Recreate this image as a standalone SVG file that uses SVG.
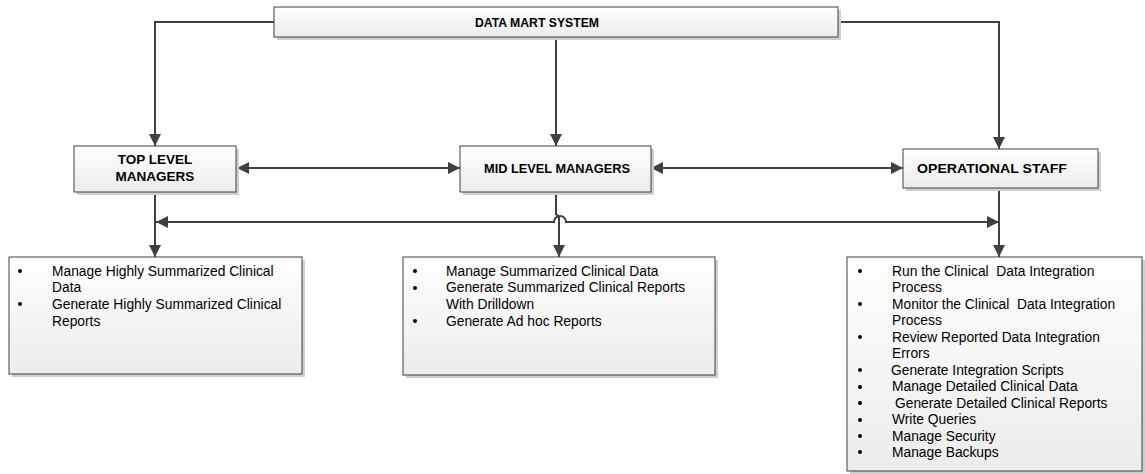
<svg xmlns="http://www.w3.org/2000/svg" width="1145" height="474" viewBox="0 0 1145 474">
  <style>
    .box { fill: url(#boxFill); stroke: #404040; stroke-width: 1; }
    .shadow { fill: #cfcfcf; }
    .title { font-family: "Liberation Sans", Arial, sans-serif; font-size: 13.5px; font-weight: bold; fill: #000; text-anchor: middle; }
    .item { font-family: "Liberation Sans", Arial, sans-serif; font-size: 13.8px; fill: #000; }
    .wire { fill: none; stroke: #404040; stroke-width: 2; }
    .dot { fill: #000; }
  </style>
  <defs>
    <linearGradient id="boxFill" x1="0" y1="0" x2="0" y2="1">
      <stop offset="0" stop-color="#ffffff"/>
      <stop offset="1" stop-color="#ececec"/>
    </linearGradient>
    <marker id="arrow" viewBox="0 0 10 10" refX="10" refY="5" markerWidth="6" markerHeight="6" orient="auto-start-reverse" markerUnits="strokeWidth">
      <path d="M0,0 L10,5 L0,10 Z" fill="#404040"/>
    </marker>
  </defs>

  <!-- connectors -->
  <g id="connectors">
    <path class="wire" d="M274,22 H155 V146" marker-end="url(#arrow)"/>
    <path class="wire" d="M556,37 V146" marker-end="url(#arrow)"/>
    <path class="wire" d="M838,22 H999 V149" marker-end="url(#arrow)"/>
    <path class="wire" d="M237,168 H460" marker-start="url(#arrow)" marker-end="url(#arrow)"/>
    <path class="wire" d="M651,168 H903" marker-start="url(#arrow)" marker-end="url(#arrow)"/>
    <path class="wire" d="M155,192 V257" marker-end="url(#arrow)"/>
    <path class="wire" d="M999,188 V257" marker-end="url(#arrow)"/>
    <path class="wire" d="M556,192 V214 L559,217 V257" marker-end="url(#arrow)"/>
    <path class="wire" d="M999,222 H566 A6,6 0 0 0 554,222 H156" marker-end="url(#arrow)"/>
    <path class="wire" d="M980,222 H999" marker-end="url(#arrow)"/>
  </g>

  <!-- top node -->
  <g id="data-mart-system">
    <rect class="shadow" x="277" y="10" width="564" height="30"/>
    <rect class="box" x="274" y="7" width="564" height="30"/>
    <text class="title" x="475" y="27" textLength="124" lengthAdjust="spacingAndGlyphs" style="text-anchor:start">DATA MART SYSTEM</text>
  </g>

  <g id="top-level-managers">
    <rect class="shadow" x="77" y="149" width="162" height="46"/>
    <rect class="box" x="74" y="146" width="162" height="46"/>
    <text class="title" x="155" y="164">TOP LEVEL</text>
    <text class="title" x="155" y="181">MANAGERS</text>
  </g>

  <g id="mid-level-managers">
    <rect class="shadow" x="463" y="149" width="191" height="46"/>
    <rect class="box" x="460" y="146" width="191" height="46"/>
    <text class="title" x="484" y="173" textLength="146" lengthAdjust="spacingAndGlyphs" style="text-anchor:start">MID LEVEL MANAGERS</text>
  </g>

  <g id="operational-staff">
    <rect class="shadow" x="906" y="152" width="195" height="39"/>
    <rect class="box" x="903" y="149" width="195" height="39"/>
    <text class="title" x="917" y="173" textLength="150" lengthAdjust="spacingAndGlyphs" style="text-anchor:start">OPERATIONAL STAFF</text>
  </g>

  <!-- task lists -->
  <g id="top-level-tasks">
    <rect class="shadow" x="12" y="260" width="293" height="117"/>
    <rect class="box" x="9" y="257" width="293" height="117"/>
    <circle class="dot" cx="20" cy="271" r="2"/>
    <circle class="dot" cx="20" cy="304" r="2"/>
    <text class="item" x="52" y="276">Manage Highly Summarized Clinical</text>
    <text class="item" x="52" y="292">Data</text>
    <text class="item" x="52" y="309">Generate Highly Summarized Clinical</text>
    <text class="item" x="52" y="326">Reports</text>
  </g>

  <g id="mid-level-tasks">
    <rect class="shadow" x="406" y="260" width="312" height="118"/>
    <rect class="box" x="403" y="257" width="312" height="118"/>
    <circle class="dot" cx="415" cy="271" r="2"/>
    <circle class="dot" cx="415" cy="288" r="2"/>
    <circle class="dot" cx="415" cy="321" r="2"/>
    <text class="item" x="446" y="276">Manage Summarized Clinical Data</text>
    <text class="item" x="446" y="292">Generate Summarized Clinical Reports</text>
    <text class="item" x="446" y="309">With Drilldown</text>
    <text class="item" x="446" y="326">Generate Ad hoc Reports</text>
  </g>

  <g id="operational-tasks">
    <rect class="shadow" x="850" y="260" width="295" height="214"/>
    <rect class="box" x="847" y="257" width="295" height="214"/>
    <circle class="dot" cx="860" cy="271" r="2"/>
    <circle class="dot" cx="860" cy="304" r="2"/>
    <circle class="dot" cx="860" cy="337" r="2"/>
    <circle class="dot" cx="860" cy="370" r="2"/>
    <circle class="dot" cx="860" cy="387" r="2"/>
    <circle class="dot" cx="860" cy="403" r="2"/>
    <circle class="dot" cx="860" cy="420" r="2"/>
    <circle class="dot" cx="860" cy="436" r="2"/>
    <circle class="dot" cx="860" cy="452" r="2"/>
    <text class="item" x="892" y="276" xml:space="preserve">Run the Clinical  Data Integration</text>
    <text class="item" x="892" y="292">Process</text>
    <text class="item" x="892" y="309" xml:space="preserve">Monitor the Clinical  Data Integration</text>
    <text class="item" x="892" y="325">Process</text>
    <text class="item" x="892" y="342">Review Reported Data Integration</text>
    <text class="item" x="892" y="358">Errors</text>
    <text class="item" x="891" y="375">Generate Integration Scripts</text>
    <text class="item" x="892" y="391">Manage Detailed Clinical Data</text>
    <text class="item" x="895" y="408">Generate Detailed Clinical Reports</text>
    <text class="item" x="892" y="424">Write Queries</text>
    <text class="item" x="892" y="441">Manage Security</text>
    <text class="item" x="892" y="457">Manage Backups</text>
  </g>
</svg>
